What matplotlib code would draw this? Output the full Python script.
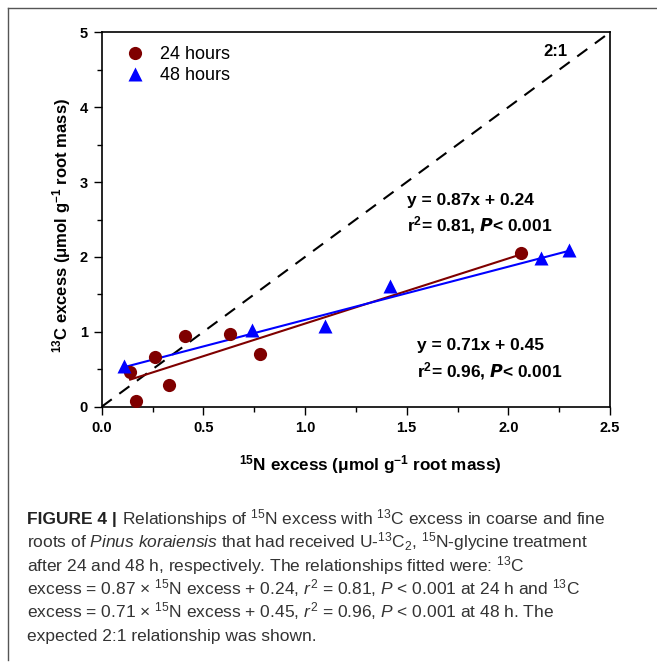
import numpy as np
import matplotlib.pyplot as plt
from matplotlib.lines import Line2D

plt.rcParams['font.family'] = ['Liberation Sans', 'DejaVu Sans']
plt.rcParams['mathtext.fontset'] = 'custom'
plt.rcParams['mathtext.rm'] = 'Liberation Sans'
plt.rcParams['mathtext.it'] = 'Liberation Sans:italic'
plt.rcParams['mathtext.bf'] = 'Liberation Sans:bold'

# ==============================
# data
# ==============================
n24 = [0.14, 0.17, 0.26, 0.33, 0.41, 0.63, 0.78, 2.06]
c24 = [0.47, 0.08, 0.66, 0.29, 0.95, 0.97, 0.70, 2.05]

n48 = [0.11, 0.74, 1.10, 1.42, 2.16, 2.30]
c48 = [0.55, 1.02, 1.08, 1.61, 1.99, 2.09]

# fitted relationships (slope, intercept)
fit24 = (0.87, 0.24)
fit48 = (0.71, 0.45)
ratio_line = 2.0

red = '#7f0000'
blue = '#0000ff'

W, H = 657, 666
fig = plt.figure(figsize=(W / 100, H / 100), dpi=100)

def fx(px):
    return px / W

def fy(py):
    return 1 - py / H

ax = fig.add_axes([fx(101.7), fy(406.7), fx(610) - fx(101.7), fy(32.3) - fy(406.7)])

# 2:1 line
xr = np.array([0.0, 2.5])
ax.plot(xr, ratio_line * xr, color='black', lw=1.5, ls=(0, (6, 4.5)), zorder=1)

# fitted lines over the data range
x1 = np.array([min(n24), max(n24)])
ax.plot(x1, fit24[0] * x1 + fit24[1], color=red, lw=1.5, zorder=2)
x2 = np.array([min(n48), max(n48)])
ax.plot(x2, fit48[0] * x2 + fit48[1], color=blue, lw=1.5, zorder=2)

ax.plot(n24, c24, 'o', color=red, ms=9.5, mec='none', zorder=3)
ax.plot(n48, c48, '^', color=blue, ms=10, mec='none', zorder=3)

ax.set_xlim(0, 2.5)
ax.set_ylim(0, 5)
ax.set_xticks(np.arange(0, 2.51, 0.5))
ax.set_xticks(np.arange(0.25, 2.5, 0.5), minor=True)
ax.set_yticks(np.arange(0, 5.1, 1))
ax.set_yticks(np.arange(0.5, 5, 1), minor=True)
ax.set_xticklabels(['0.0', '0.5', '1.0', '1.5', '2.0', '2.5'])
ax.tick_params(which='both', direction='out', top=False, right=False,
               labelsize=10.5, width=1, pad=4)
ax.tick_params(which='major', length=6)
ax.tick_params(which='minor', length=3.5)
for lab in ax.get_xticklabels() + ax.get_yticklabels():
    lab.set_fontweight('bold')
for sp in ax.spines.values():
    sp.set_linewidth(1.2)

ax.set_xlabel(r'$^{\mathbf{15}}$N excess ($\mathbf{\mu}$mol g$^{\mathbf{-1}}$ root mass)',
              fontsize=12.3, fontweight='bold')
ax.set_ylabel(r'$^{\mathbf{13}}$C excess ($\mathbf{\mu}$mol g$^{\mathbf{-1}}$ root mass)',
              fontsize=12, fontweight='bold')
ax.xaxis.set_label_coords(0.528, -0.125)
ax.yaxis.set_label_coords(-0.057, 0.485)

# legend
handles = [Line2D([], [], ls='none', marker='o', color=red, ms=9.5, mec='none'),
           Line2D([], [], ls='none', marker='^', color=blue, ms=10, mec='none')]
ax.legend(handles, ['24 hours', '48 hours'], loc='upper left', frameon=False,
          fontsize=13, handletextpad=0.6, labelspacing=0.25, handlelength=1.6,
          bbox_to_anchor=(0.01, 1.0), borderaxespad=0.35)

ax.text(2.17, 4.68, '2:1', fontsize=12, fontweight='bold')
ax.text(1.50, 2.70, 'y = 0.87x + 0.24', fontsize=12.5, fontweight='bold')
ax.text(1.50, 2.35, r'r$^{\mathbf{2}}$= 0.81, $\mathbfit{P}$< 0.001', fontsize=12.5, fontweight='bold')
ax.text(1.55, 0.76, 'y = 0.71x + 0.45', fontsize=12.5, fontweight='bold')
ax.text(1.55, 0.40, r'r$^{\mathbf{2}}$= 0.96, $\mathbfit{P}$< 0.001', fontsize=12.5, fontweight='bold')

# outer frame of the figure panel
fig.add_artist(Line2D([fx(8), fx(8)], [fy(8), fy(660)], color='#555555', lw=1))
fig.add_artist(Line2D([fx(8), 1.0], [fy(8), fy(8)], color='#555555', lw=1))

# caption
cap = '#333333'
cs = 12.5
lines = [
    r'Relationships of $^{15}$N excess with $^{13}$C excess in coarse and fine',
    r'roots of $\mathit{Pinus\ koraiensis}$ that had received U-$^{13}$C$_{2}$, $^{15}$N-glycine treatment',
    r'after 24 and 48 h, respectively. The relationships fitted were: $^{13}$C',
    r'excess = 0.87 $\times$ $^{15}$N excess + 0.24, $\mathit{r}^{2}$ = 0.81, $\mathit{P}$ < 0.001 at 24 h and $^{13}$C',
    r'excess = 0.71 $\times$ $^{15}$N excess + 0.45, $\mathit{r}^{2}$ = 0.96, $\mathit{P}$ < 0.001 at 48 h. The',
    'expected 2:1 relationship was shown.',
]
ys = [524, 547, 571, 594, 617, 641]
t0 = fig.text(fx(27), fy(ys[0]), 'FIGURE 4 | ', fontsize=cs, fontweight='bold',
              color='#222222', va='baseline')
fig.canvas.draw()
bb = t0.get_window_extent()
fig.text(bb.x1 / W, fy(ys[0]), lines[0], fontsize=cs, color=cap, va='baseline')
for s, y in zip(lines[1:], ys[1:]):
    fig.text(fx(27), fy(y), s, fontsize=cs, color=cap, va='baseline')

fig.savefig('out.png', dpi=100)
